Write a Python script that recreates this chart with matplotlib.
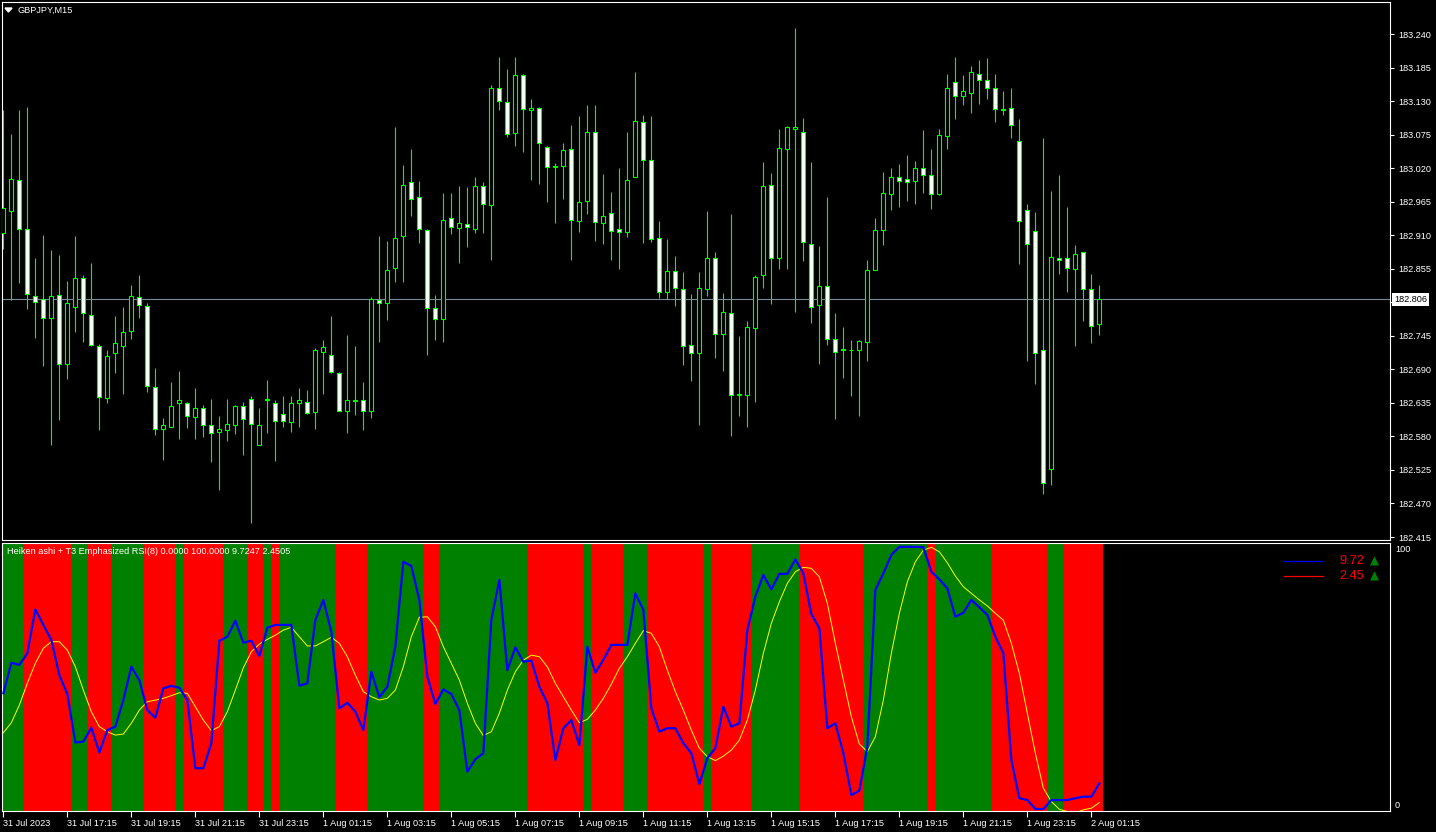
import numpy as np
import matplotlib
matplotlib.use('Agg')
import matplotlib.pyplot as plt
from matplotlib.lines import Line2D
from matplotlib.patches import Polygon

plt.rcParams['font.family'] = ['Liberation Sans', 'DejaVu Sans']

# --- GBPJPY M15 candles ---
opens = [182.914, 182.950, 183.001, 182.921, 182.811, 182.805, 182.775, 182.812, 182.698, 182.793,
         182.839, 182.779, 182.729, 182.643, 182.716, 182.728, 182.753, 182.809, 182.794, 182.661,
         182.592, 182.596, 182.634, 182.635, 182.612, 182.627, 182.598, 182.588, 182.591, 182.598,
         182.630, 182.642, 182.566, 182.642, 182.635, 182.616, 182.604, 182.635, 182.637, 182.620,
         182.718, 182.714, 182.684, 182.621, 182.638, 182.639, 182.621, 182.804, 182.798, 182.857,
         182.909, 182.998, 182.973, 182.919, 182.790, 182.772, 182.938, 182.922, 182.929, 182.921,
         182.990, 182.960, 183.152, 183.129, 183.078, 183.172, 183.116, 183.118, 183.055, 183.022,
         183.024, 183.052, 182.933, 182.966, 183.080, 182.930, 182.946, 182.921, 182.916, 183.005,
         183.096, 183.034, 182.906, 182.817, 182.852, 182.821, 182.730, 182.717, 182.822, 182.873,
         182.748, 182.783, 182.648, 182.648, 182.757, 182.844, 182.993, 182.872, 183.051, 183.085,
         183.080, 182.895, 182.795, 182.827, 182.739, 182.724, 182.722, 182.721, 182.735, 182.853,
         182.919, 182.977, 183.006, 183.003, 182.999, 183.021, 183.008, 182.978, 183.073, 183.162,
         183.139, 183.144, 183.175, 183.165, 183.152, 183.117, 183.119, 183.065, 182.952, 182.917,
         182.721, 182.527, 182.873, 182.873, 182.855, 182.883, 182.821, 182.765]
highs = [183.116, 183.076, 183.116, 183.121, 182.872, 182.911, 182.885, 182.877, 182.835, 182.908,
         182.844, 182.865, 182.732, 182.722, 182.777, 182.792, 182.829, 182.845, 182.798, 182.692,
         182.611, 182.669, 182.688, 182.637, 182.660, 182.632, 182.642, 182.614, 182.641, 182.631,
         182.636, 182.647, 182.627, 182.672, 182.639, 182.647, 182.646, 182.659, 182.656, 182.725,
         182.738, 182.777, 182.685, 182.747, 182.729, 182.670, 182.808, 182.908, 182.901, 183.087,
         183.025, 183.051, 182.999, 182.921, 182.812, 182.979, 182.979, 182.990, 182.989, 183.005,
         182.997, 183.157, 183.202, 183.182, 183.202, 183.175, 183.134, 183.121, 183.057, 183.029,
         183.062, 183.090, 183.106, 183.123, 183.123, 183.010, 182.981, 183.021, 183.079, 183.177,
         183.107, 183.105, 182.933, 182.903, 182.876, 182.849, 182.814, 182.850, 182.949, 182.883,
         182.816, 182.944, 182.744, 182.770, 182.845, 183.030, 183.012, 183.084, 183.089, 183.250,
         183.103, 183.030, 182.892, 182.972, 182.782, 182.759, 182.738, 182.738, 182.869, 182.939,
         183.013, 183.020, 183.026, 183.041, 183.031, 183.082, 183.052, 183.085, 183.174, 183.203,
         183.172, 183.187, 183.197, 183.200, 183.174, 183.147, 183.152, 183.100, 182.961, 182.948,
         183.070, 182.982, 183.008, 182.956, 182.894, 182.883, 182.847, 182.829]
lows = [182.887, 182.804, 182.831, 182.789, 182.742, 182.695, 182.566, 182.607, 182.674, 182.751,
        182.735, 182.728, 182.590, 182.635, 182.684, 182.650, 182.740, 182.774, 182.653, 182.583,
        182.541, 182.596, 182.576, 182.594, 182.576, 182.579, 182.538, 182.492, 182.572, 182.584,
        182.550, 182.438, 182.566, 182.586, 182.540, 182.596, 182.587, 182.596, 182.616, 182.592,
        182.650, 182.684, 182.621, 182.586, 182.615, 182.591, 182.610, 182.735, 182.771, 182.833,
        182.833, 182.942, 182.897, 182.713, 182.738, 182.735, 182.912, 182.864, 182.890, 182.914,
        182.914, 182.870, 183.115, 183.071, 183.056, 183.047, 183.000, 182.994, 182.965, 182.930,
        182.970, 182.870, 182.916, 182.944, 182.900, 182.895, 182.869, 182.854, 182.907, 183.005,
        182.897, 182.899, 182.807, 182.805, 182.794, 182.697, 182.671, 182.599, 182.811, 182.709,
        182.687, 182.581, 182.613, 182.595, 182.637, 182.824, 182.797, 182.855, 182.855, 182.784,
        182.868, 182.766, 182.699, 182.730, 182.608, 182.676, 182.646, 182.613, 182.704, 182.853,
        182.894, 182.951, 182.956, 182.966, 182.961, 182.979, 182.953, 182.976, 183.051, 183.101,
        183.124, 183.111, 183.125, 183.134, 183.096, 183.107, 183.070, 182.863, 182.704, 182.666,
        182.486, 182.500, 182.846, 182.817, 182.728, 182.769, 182.733, 182.746]
closes = [182.955, 183.003, 182.921, 182.813, 182.801, 182.775, 182.811, 182.698, 182.798, 182.839,
          182.783, 182.730, 182.645, 182.712, 182.734, 182.752, 182.811, 182.795, 182.663, 182.592,
          182.598, 182.630, 182.639, 182.614, 182.627, 182.599, 182.586, 182.592, 182.601, 182.630,
          182.608, 182.600, 182.598, 182.639, 182.606, 182.606, 182.634, 182.639, 182.618, 182.721,
          182.726, 182.686, 182.622, 182.639, 182.639, 182.622, 182.806, 182.798, 182.853, 182.906,
          182.993, 182.970, 182.921, 182.790, 182.772, 182.935, 182.924, 182.930, 182.924, 182.990,
          182.962, 183.152, 183.130, 183.076, 183.172, 183.117, 183.119, 183.061, 183.022, 183.024,
          183.050, 182.935, 182.965, 183.080, 182.931, 182.942, 182.917, 182.916, 183.001, 183.098,
          183.034, 182.903, 182.817, 182.852, 182.824, 182.729, 182.717, 182.824, 182.873, 182.748,
          182.784, 182.648, 182.649, 182.759, 182.842, 182.991, 182.872, 183.053, 183.088, 183.088,
          182.899, 182.793, 182.826, 182.739, 182.719, 182.721, 182.721, 182.737, 182.853, 182.919,
          182.980, 183.006, 182.999, 182.998, 183.021, 183.009, 182.978, 183.075, 183.152, 183.139,
          183.146, 183.178, 183.164, 183.152, 183.117, 183.116, 183.090, 182.934, 182.895, 182.717,
          182.503, 182.875, 182.870, 182.857, 182.879, 182.821, 182.761, 182.806]

# --- Heiken ashi + T3 Emphasized RSI(8) ---
ha_trend = ("GGG" "RRRRRR" "GG" "RRR" "GGGG" "RRRR" "G" "RRRRR" "GGG" "RR" "G" "R"
            "GGGGGGG" "RRRR" "GGGGGGG" "RR" "GGGGGGGGGGG" "RRRRRRR" "G" "RRRR" "GGG"
            "RRRRRRR" "G" "RRRRR" "GGGGGG" "RRRRRRRR" "GGGGGGGG" "R" "GGGGGGG"
            "RRRRRRR" "GG" "RRRRR")
rsi = [44.0, 55.6, 54.8, 59.2, 75.9, 70.0, 64.3, 50.9, 43.7, 25.3,
       25.6, 30.9, 21.5, 30.0, 31.3, 41.4, 54.1, 49.0, 37.6, 34.7,
       45.9, 46.8, 46.1, 41.4, 15.5, 15.5, 25.0, 64.0, 65.5, 71.6,
       63.2, 64.0, 58.2, 68.9, 70.0, 70.0, 70.0, 46.9, 47.8, 71.9,
       79.5, 67.4, 38.3, 40.4, 37.0, 30.0, 52.2, 42.5, 46.5, 61.7,
       94.0, 92.4, 79.5, 50.3, 39.9, 45.5, 43.7, 37.6, 14.2, 18.9,
       21.2, 71.9, 87.1, 52.8, 61.5, 56.0, 56.4, 46.5, 40.2, 18.6,
       30.7, 33.8, 24.3, 61.7, 51.8, 56.7, 62.4, 62.4, 62.4, 82.0,
       75.7, 38.3, 29.4, 30.7, 30.7, 25.0, 21.2, 9.5, 19.3, 23.1,
       38.9, 31.3, 32.6, 68.1, 80.7, 89.0, 83.5, 89.4, 89.4, 94.9,
       89.6, 74.1, 68.7, 30.7, 32.6, 21.2, 5.3, 7.0, 23.7, 83.3,
       89.6, 96.6, 99.7, 99.7, 99.7, 99.5, 90.2, 87.3, 83.9, 73.1,
       74.6, 79.5, 76.7, 73.8, 65.5, 59.2, 18.6, 4.1, 3.4, 0.0,
       0.0, 3.4, 3.4, 3.4, 4.1, 4.7, 4.7, 9.72]
t3 = [29.0, 32.8, 39.5, 47.8, 55.4, 61.1, 63.6, 63.6, 60.4, 54.1,
      45.2, 37.0, 31.3, 29.4, 28.1, 28.5, 32.6, 37.6, 40.8, 41.4,
      42.1, 43.1, 44.2, 44.0, 38.9, 33.8, 29.8, 31.3, 37.0, 45.2,
      53.7, 59.8, 62.7, 64.5, 66.1, 68.0, 69.1, 65.5, 62.0, 62.0,
      63.6, 65.3, 63.0, 57.9, 50.9, 44.6, 42.7, 41.4, 42.1, 45.2,
      54.1, 65.5, 72.9, 73.1, 69.3, 61.7, 55.4, 49.0, 40.2, 32.6,
      27.9, 29.4, 36.4, 45.2, 52.2, 56.6, 58.5, 57.9, 54.1, 47.8,
      42.7, 37.6, 32.8, 34.1, 37.6, 42.1, 47.5, 53.5, 57.9, 63.0,
      67.8, 66.8, 61.7, 52.8, 44.6, 37.6, 30.0, 23.1, 19.9, 18.4,
      20.1, 22.4, 26.2, 33.8, 45.2, 59.2, 70.6, 78.8, 85.8, 90.2,
      91.9, 91.5, 88.3, 78.2, 63.0, 49.0, 35.1, 24.7, 21.8, 27.5,
      41.4, 59.2, 74.4, 86.4, 94.0, 98.4, 99.5, 97.8, 93.6, 88.6,
      84.5, 82.0, 79.5, 77.2, 74.4, 71.8, 63.0, 51.6, 36.4, 21.2,
      7.9, 2.8, -0.1, -1.0, -1.5, -0.3, 0.3, 2.45]

time_labels = ["31 Jul 2023", "31 Jul 17:15", "31 Jul 19:15", "31 Jul 21:15", "31 Jul 23:15",
               "1 Aug 01:15", "1 Aug 03:15", "1 Aug 05:15", "1 Aug 07:15", "1 Aug 09:15",
               "1 Aug 11:15", "1 Aug 13:15", "1 Aug 15:15", "1 Aug 17:15", "1 Aug 19:15",
               "1 Aug 21:15", "1 Aug 23:15", "2 Aug 01:15"]
price_ticks = [183.240, 183.185, 183.130, 183.075, 183.020, 182.965, 182.910, 182.855,
               182.800, 182.745, 182.690, 182.635, 182.580, 182.525, 182.470, 182.415]
last_price = 182.806

W, H = 1436, 832
fig = plt.figure(figsize=(W / 100, H / 100), dpi=100, facecolor='black')


def fbox(x0, y0, x1, y1):
    return [x0 / W, 1 - y1 / H, (x1 - x0) / W, (y1 - y0) / H]


def fx(px):
    return px / W


def fy(py):
    return 1 - py / H


ax = fig.add_axes(fbox(2, 2, 1390, 540), facecolor='black')
ax2 = fig.add_axes(fbox(2, 543, 1390, 811), facecolor='black')

o = np.array(opens)
hi = np.array(highs)
lo = np.array(lows)
c = np.array(closes)
idx = np.arange(len(c))
bull = c >= o

# --- candles ---
ax.vlines(idx, lo, hi, color='#00ff00', lw=0.8, zorder=2)
body_lo = np.minimum(o, c)
body_h = np.maximum(np.abs(c - o), 0.0008)
ax.bar(idx, body_h, bottom=body_lo, width=0.5,
       color=np.where(bull, 'black', 'white'), edgecolor='#00ff00',
       linewidth=0.8, zorder=3)
ax.axhline(last_price, color='#778899', lw=0.8, zorder=1)

ax.set_xlim(-0.166, 173.33)
ax.set_ylim(182.4101, 183.2925)
ax.set_xticks([])
ax.yaxis.tick_right()
ax.set_yticks(price_ticks)
# the 182.800 label sits under the last-price box, so leave it blank
ax.set_yticklabels(['' if abs(t - last_price) < 0.02 else f'{t:.3f}' for t in price_ticks])
ax.tick_params(axis='y', colors='white', length=3, width=0.8, pad=3, labelsize=6.6)

# --- indicator ---
stripe_cols = ['#008000' if s == 'G' else '#ff0000' for s in ha_trend]
ax2.bar(idx, 110, bottom=-5, width=1.0, color=stripe_cols, linewidth=0, antialiased=False)
ax2.plot(idx, t3, color='#ffff00', lw=0.7, zorder=3)
ax2.plot(idx, rsi, color='#0000ff', lw=1.6, zorder=4)
ax2.set_xlim(-0.166, 173.33)
ax2.set_ylim(-0.76, 101.14)
ax2.set_yticks([])
ax2.set_xticks(np.arange(0, len(c), 8))
ax2.set_xticklabels(time_labels, ha='left')
ax2.tick_params(axis='x', colors='white', length=4, width=0.8, pad=1.5, labelsize=6.6)

for a in (ax, ax2):
    for sp in a.spines.values():
        sp.set_color('white')
        sp.set_linewidth(0.8)

# --- texts ---
fig.add_artist(Polygon([[fx(5), fy(8)], [fx(12), fy(8)], [fx(8.5), fy(12)]],
                       closed=True, color='white', transform=fig.transFigure))
fig.text(fx(17), fy(10), 'GBPJPY,M15', color='white', fontsize=6.6, va='center')
fig.text(fx(7), fy(551), 'Heiken ashi + T3 Emphasized RSI(8) 0.0000 100.0000 9.7247 2.4505',
         color='white', fontsize=6.6, va='center')
fig.text(fx(1394), fy(299.5), f'{last_price:.3f}', color='black', fontsize=6.6, va='center',
         bbox=dict(boxstyle='square,pad=0.18', fc='white', ec='none'))
fig.text(fx(1395), fy(550), '100', color='white', fontsize=6.6, va='center')
fig.text(fx(1395), fy(805), '0', color='white', fontsize=6.6, va='center')

# legend of the indicator
for ypx, col, val in [(561, '#0000ff', rsi[-1]), (576, '#ff0000', t3[-1])]:
    fig.add_artist(Line2D([fx(1284), fx(1323)], [fy(ypx), fy(ypx)], color=col, lw=0.9,
                          transform=fig.transFigure))
    fig.text(fx(1364), fy(ypx), f'{val:.2f}', color='#ff0000', fontsize=9.2,
             va='center', ha='right')
    fig.text(fx(1370), fy(ypx), '\u25B2', color='#008000', fontsize=8.5,
             va='center', family='DejaVu Sans')

fig.savefig('out.png', dpi=100, facecolor='black')
